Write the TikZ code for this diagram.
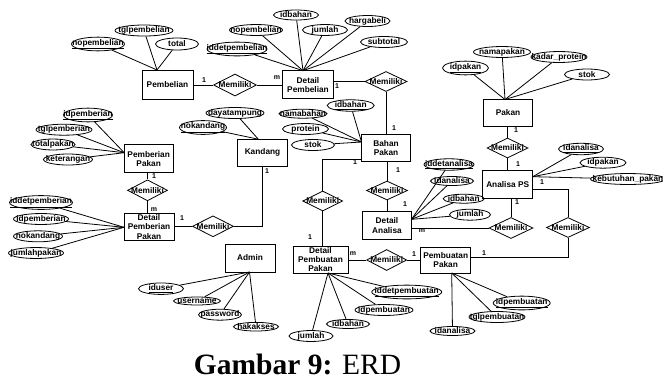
\documentclass[tikz,border=0pt]{standalone}
\usepackage{fontspec}
\setmainfont{Liberation Serif}
\newfontfamily\dfont{Liberation Sans}
\usetikzlibrary{shapes.geometric}
\newcommand{\dgfont}{\dfont\bfseries\fontsize{8.3}{9.2}\selectfont}
\newcommand{\mkattr}[6]{%
  \node[attr, minimum width=#3pt, minimum height=#4pt] (#1) at (#2) {\makebox[0pt]{#5}};
  \draw[ln] (#1) -- (#6);}
\begin{document}
\begin{tikzpicture}[x=1pt,y=-1pt,
  ln/.style={line width=0.8pt},
  ent/.style={draw, rectangle, line width=0.9pt, inner sep=0pt, align=center, font=\dgfont},
  attr/.style={draw, ellipse, line width=0.8pt, inner sep=0pt, font=\dgfont},
  rel/.style={draw, diamond, line width=0.8pt, inner sep=0pt, font=\dgfont},
  card/.style={inner sep=0pt, font=\dfont\bfseries\fontsize{7}{8}\selectfont}]
\useasboundingbox (0,0) rectangle (663,381);
\begin{scope}
\clip (0,0) rectangle (663,381);
% entities
\node[ent, minimum width=51pt, minimum height=29pt] (pembelian) at (167.5,84.5) {Pembelian};
\node[ent, minimum width=51pt, minimum height=28pt] (detpembelian) at (308,84.7) {Detail\\Pembelian};
\node[ent, minimum width=49pt, minimum height=27pt] (pakan) at (508,113) {Pakan};
\node[ent, minimum width=50pt, minimum height=28pt] (analisaps) at (507.7,184.5) {Analisa PS};
\node[ent, minimum width=49pt, minimum height=27pt] (bahanpakan) at (386,148) {Bahan\\Pakan};
\node[ent, minimum width=50pt, minimum height=27pt] (kandang) at (262.5,152.7) {Kandang};
\node[ent, minimum width=49pt, minimum height=28pt] (pemberian) at (148.7,158.8) {Pemberian\\Pakan};
\node[ent, minimum width=50pt, minimum height=27pt] (detpemberian) at (149,227) {Detail\\Pemberian\\Pakan};
\node[ent, minimum width=50pt, minimum height=28pt] (admin) at (250,258) {Admin};
\node[ent, minimum width=49pt, minimum height=28pt] (detanalisa) at (387,225.5) {Detail\\Analisa};
\node[ent, minimum width=55pt, minimum height=27pt] (detpembuatan) at (320.5,259.5) {Detail\\Pembuatan\\Pakan};
\node[ent, minimum width=50pt, minimum height=26pt] (pembuatan) at (445.7,260) {Pembuatan\\Pakan};
% relationships
\node[rel, minimum width=43pt, minimum height=22pt] (r1) at (235,85) {\makebox[0pt]{Memiliki}};
\node[rel, minimum width=42pt, minimum height=20pt] (r2) at (386,81.5) {\makebox[0pt]{Memiliki}};
\node[rel, minimum width=41pt, minimum height=19pt] (r3) at (387,190.5) {\makebox[0pt]{Memiliki}};
\node[rel, minimum width=40pt, minimum height=20pt] (r4) at (322.7,201) {\makebox[0pt]{Memiliki}};
\node[rel, minimum width=40pt, minimum height=21pt] (r5) at (386.7,260) {\makebox[0pt]{Memiliki}};
\node[rel, minimum width=43pt, minimum height=20pt] (r6) at (568,227.5) {\makebox[0pt]{Memiliki}};
\node[rel, minimum width=44pt, minimum height=21pt] (r7) at (511,228) {\makebox[0pt]{Memiliki}};
\node[rel, minimum width=41pt, minimum height=20pt] (r8) at (507.5,148) {\makebox[0pt]{Memiliki}};
\node[rel, minimum width=40pt, minimum height=21pt] (r9) at (147.5,190.3) {\makebox[0pt]{Memiliki}};
\node[rel, minimum width=41pt, minimum height=21pt] (r10) at (213,226.3) {\makebox[0pt]{Memiliki}};
% relationship connectors
\draw[ln] (pembelian.east |- r1) -- (r1) -- (r1 -| detpembelian.west);
\draw[ln] (detpembelian.east |- r2) -- (r2) -- (bahanpakan.north -| r2);
\draw[ln] (bahanpakan.south -| r3) -- (r3) -- (r3 |- detanalisa.north);
\coordinate (k4) at (322.7,159);
\draw[ln] (bahanpakan.west |- k4) -- (k4) -- (r4) -- (r4 |- detpembuatan.north);
\draw[ln] (detpembuatan.east |- r5) -- (r5) -- (r5 -| pembuatan.west);
\coordinate (k6a) at (568,257.3);
\coordinate (k6b) at (568,189.3);
\draw[ln] (pembuatan.east |- k6a) -- (k6a) -- (r6) -- (k6b) -- (analisaps.east |- k6b);
\draw[ln] (analisaps.south -| r7) -- (r7) -- (r7 -| detanalisa.east);
\draw[ln] (pakan.south -| r8) -- (r8) -- (r8 |- analisaps.north);
\draw[ln] (pemberian.south -| r9) -- (r9) -- (r9 |- detpemberian.north);
\coordinate (k10) at (262.5,226.3);
\draw[ln] (detpemberian.east |- r10) -- (r10) -- (k10) -- (kandang.south);
% cardinalities
\node[card] (c1) at (204,80) {1};
\node[card] (c2) at (277,78) {m};
\node[card] (c3) at (337,86) {1};
\node[card] (c4) at (394,128) {1};
\node[card] (c5) at (398,170) {1};
\node[card] (c6) at (405,204) {1};
\node[card] (c7) at (355,162.5) {1};
\node[card] (c8) at (310,237) {1};
\node[card] (c9) at (353,254) {m};
\node[card] (c10) at (414,254) {1};
\node[card] (c11) at (484,253) {1};
\node[card] (c12) at (542,182) {1};
\node[card] (c13) at (517,202) {1};
\node[card] (c14) at (422,230.5) {m};
\node[card] (c15) at (516,130) {1};
\node[card] (c16) at (518,164) {1};
\node[card] (c17) at (154,176) {1};
\node[card] (c18) at (154,209.5) {m};
\node[card] (c19) at (182,218.5) {1};
\node[card] (c20) at (267,171) {1};
% attribute anchor points
\coordinate (pb-c) at (157,70);
\coordinate (dp-c) at (303,70.7);
\coordinate (pk-c) at (505,99.5);
\coordinate (ap-c) at (532.7,176.7);
\coordinate (da-c) at (411.5,219.3);
\coordinate (bp-c) at (361.5,142);
\coordinate (kd-c) at (258.3,139.2);
\coordinate (pp-c) at (124.2,152.7);
\coordinate (dpp-c) at (124,227.3);
\coordinate (ad-c) at (249.5,272);
\coordinate (dpb-c) at (328,273);
\coordinate (pbp-c) at (451.7,273);
% attributes
\mkattr{a1}{98,44}{53}{10}{\underline{nopembelian}}{pb-c}
\mkattr{a2}{144,30.5}{58}{10}{tglpembelian}{pb-c}
\mkattr{a3}{177,44}{43}{12}{total}{pb-c}
\mkattr{a4}{237,49}{60}{9}{\underline{iddetpembelian}}{dp-c}
\mkattr{a5}{256,30}{53}{10}{nopembelian}{dp-c}
\mkattr{a6}{296,15}{45}{10}{idbahan}{dp-c}
\mkattr{a7}{325,30}{45}{9}{jumlah}{dp-c}
\mkattr{a8}{367.5,21}{45}{10}{hargabeli}{dp-c}
\mkattr{a9}{384,42}{47}{11}{subtotal}{dp-c}
\mkattr{a10}{465.5,68}{46}{10}{\underline{idpakan}}{pk-c}
\mkattr{a11}{502,52}{57}{10}{namapakan}{pk-c}
\mkattr{a12}{559,57}{56}{9}{kadar\_protein}{pk-c}
\mkattr{a13}{587,74.5}{45}{11}{stok}{pk-c}
\mkattr{a14}{581,149}{45}{9}{\underline{idanalisa}}{ap-c}
\mkattr{a15}{603,162.7}{46}{10}{idpakan}{ap-c}
\mkattr{a16}{628,179}{75}{9}{kebutuhan\_pakan}{ap-c}
\mkattr{a17}{449,164.5}{50}{8}{\underline{iddetanalisa}}{da-c}
\mkattr{a18}{452,181}{43}{9}{idanalisa}{da-c}
\mkattr{a19}{463.7,198.7}{41}{9}{idbahan}{da-c}
\mkattr{a20}{470,214.7}{41}{9}{jumlah}{da-c}
\mkattr{a21}{303,113.7}{48}{9}{namabahan}{bp-c}
\mkattr{a22}{350.7,105.5}{47}{9}{\underline{idbahan}}{bp-c}
\mkattr{a23}{305.5,129}{46}{10}{protein}{bp-c}
\mkattr{a24}{313,145}{43}{11}{stok}{bp-c}
\mkattr{a25}{235,113}{58}{9}{dayatampung}{kd-c}
\mkattr{a26}{203,127.5}{47}{10}{\underline{nokandang}}{kd-c}
\mkattr{a27}{88,115}{49}{8}{\underline{idpemberian}}{pp-c}
\mkattr{a28}{64,129.7}{56}{8}{tglpemberian}{pp-c}
\mkattr{a29}{53,144.5}{44}{8}{totalpakan}{pp-c}
\mkattr{a30}{68,159.5}{49}{9}{keterangan}{pp-c}
\mkattr{a31}{41,202.5}{63}{8}{\underline{iddetpemberian}}{dpp-c}
\mkattr{a32}{41,219}{55}{8}{idpemberian}{dpp-c}
\mkattr{a33}{38,236.3}{49}{8}{nokandang}{dpp-c}
\mkattr{a34}{36,253}{55}{8}{jumlahpakan}{dpp-c}
\mkattr{a35}{161,288.7}{45}{9}{\underline{iduser}}{ad-c}
\mkattr{a36}{197,301}{47}{8}{username}{ad-c}
\mkattr{a37}{220,314.7}{43}{9}{password}{ad-c}
\mkattr{a38}{256,326.7}{45}{8}{hakakses}{ad-c}
\mkattr{a39}{406.7,292}{70}{8}{\underline{iddetpembuatan}}{dpb-c}
\mkattr{a40}{384,310}{58}{9}{idpembuatan}{dpb-c}
\mkattr{a41}{348,324}{43}{9}{idbahan}{dpb-c}
\mkattr{a42}{311,336}{44}{9}{jumlah}{dpb-c}
\mkattr{a43}{521.7,303}{57}{9}{\underline{idpembuatan}}{pbp-c}
\mkattr{a44}{497,317}{56}{9}{tglpembuatan}{pbp-c}
\mkattr{a45}{452.5,331}{45}{9}{idanalisa}{pbp-c}
\end{scope}
% caption
\node[anchor=base, inner sep=0pt, font=\fontsize{29.5}{32}\selectfont] (caption) at (297.5,374.5) {\textbf{Gambar 9:} ERD};
\end{tikzpicture}
\end{document}
